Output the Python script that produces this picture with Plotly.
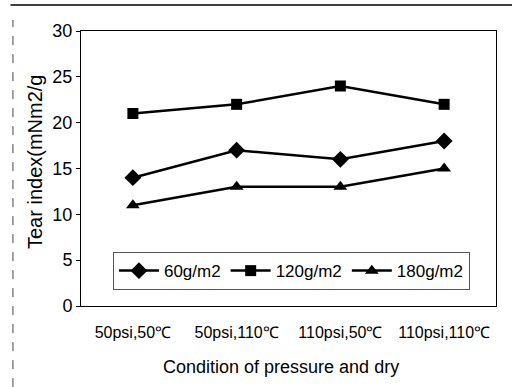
import plotly.graph_objects as go

categories = ["50psi,50\u2103", "50psi,110\u2103", "110psi,50\u2103", "110psi,110\u2103"]
s60 = [14, 17, 16, 18]
s120 = [21, 22, 24, 22]
s180 = [11, 13, 13, 15]
names = ["60g/m2", "120g/m2", "180g/m2"]
y_ticks = [0, 5, 10, 15, 20, 25, 30]

FONT = "Liberation Sans, Arial, sans-serif"

fig = go.Figure()
for vals, nm, sym, sz in [(s60, names[0], "diamond", 13),
                          (s120, names[1], "square", 11),
                          (s180, names[2], "triangle-up", 12)]:
    fig.add_trace(go.Scatter(x=categories, y=vals, name=nm, mode="lines+markers",
                             line=dict(color="black", width=2.5),
                             marker=dict(symbol=sym, size=sz, color="black")))

fig.update_layout(
    width=512, height=387,
    margin=dict(l=81, r=16, t=31, b=81),
    paper_bgcolor="white", plot_bgcolor="white",
    font=dict(family=FONT, color="black", size=17),
    showlegend=True,
    legend=dict(orientation="h", x=0.077, y=0.127, xanchor="left", yanchor="middle",
                bordercolor="#555", borderwidth=1, bgcolor="white",
                font=dict(size=17), itemwidth=40, tracegroupgap=0),
    xaxis=dict(type="category", range=[-0.5, 3.5], showgrid=False, showline=True,
               linecolor="black", linewidth=1, mirror=True, ticks="",
               tickfont=dict(size=16), ticklabelstandoff=12),
    yaxis=dict(range=[0, 30], tickvals=y_ticks, showgrid=False, showline=True,
               linecolor="black", linewidth=1, mirror=True, ticks="outside",
               ticklen=4, tickcolor="black", tickfont=dict(size=18),
               zeroline=False),
)

fig.add_annotation(text="Tear index(mNm2/g", xref="paper", yref="paper",
                   x=-0.111, y=0.527, xanchor="center", yanchor="middle",
                   textangle=-90, showarrow=False, font=dict(size=20, family=FONT))
fig.add_annotation(text="Condition of pressure and dry", xref="paper", yref="paper",
                   x=0.481, y=-0.22, xanchor="center", yanchor="middle",
                   showarrow=False, font=dict(size=18, family=FONT))

fig.add_shape(type="line", xref="paper", yref="paper", x0=-0.17, x1=1.04,
              y0=1.0945, y1=1.0945, line=dict(color="black", width=1.5))
fig.add_shape(type="line", xref="paper", yref="paper", x0=-0.164, x1=-0.164,
              y0=-0.295, y1=1.04, line=dict(color="#444", width=1, dash="dash"))

fig.write_html("out.html")
